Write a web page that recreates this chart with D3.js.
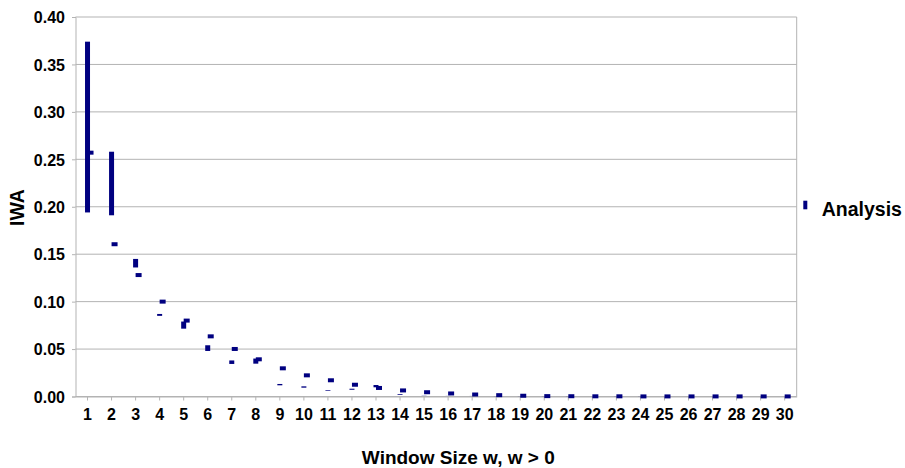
<!DOCTYPE html>
<html>
<head>
<meta charset="utf-8">
<script src="https://cdn.jsdelivr.net/npm/d3@7"></script>
<style>
  html, body { margin: 0; padding: 0; background: #fff; }
  svg { display: block; font-family: "Liberation Sans", Arial, sans-serif; }
</style>
</head>
<body>
<svg id="chart" width="905" height="468"></svg>
<script>
// ---- data ----
const categories = d3.range(1, 31).map(String);
const highValues = [0.374, 0.258, 0.145, 0.087, 0.079, 0.054, 0.038, 0.040, 0.0132, 0.0107,
                    0.0066, 0.0082, 0.0121, 0.0026, 0.0010, 0.0008, 0.0006, 0.0005, 0.0004, 0.0003,
                    0.0003, 0.0002, 0.0002, 0.0002, 0.0001, 0.0001, 0.0001, 0.0001, 0.0001, 0.0001];
const lowValues  = [0.194, 0.191, 0.136, 0.085, 0.0715, 0.048, 0.0343, 0.0346, 0.0118, 0.0093,
                    0.0059, 0.0071, 0.0097, 0.0018, 0.0008, 0.0007, 0.0005, 0.0004, 0.0003, 0.0002,
                    0.0002, 0.0002, 0.0001, 0.0001, 0.0001, 0.0001, 0.0001, 0.0001, 0.0001, 0.0001];
const closeValues = [0.257, 0.1605, 0.128, 0.100, 0.080, 0.0634, 0.0501, 0.0392, 0.0297, 0.0223,
                     0.0171, 0.0124, 0.0090, 0.0064, 0.0045, 0.0032, 0.0021, 0.0014, 0.0008, 0.0004,
                     0.0003, 0.0002, 0.0002, 0.0001, 0.0001, 0.0001, 0.0001, 0.0001, 0.0001, 0.0001];
const yTicks = [0, 0.05, 0.10, 0.15, 0.20, 0.25, 0.30, 0.35, 0.40];
const seriesName = "Analysis";
const xTitle = "Window Size w, w > 0";
const yTitle = "IWA";

// ---- layout ----
const plotL = 75.5, plotR = 796.7, plotT = 17, plotB = 396.5;
const navy = "#000080", grid = "#b3b3b3";

const svg = d3.select("#chart");

const x = d3.scaleBand().domain(categories).range([plotL, plotR]).padding(0);
const y = d3.scaleLinear().domain([0, 0.4]).range([plotB, plotT]);
const cx = c => x(c) + x.bandwidth() / 2;

// gridlines
svg.append("g").selectAll("line").data(yTicks).join("line")
  .attr("x1", plotL).attr("x2", plotR)
  .attr("y1", d => y(d)).attr("y2", d => y(d))
  .attr("stroke", grid).attr("stroke-width", 1);

// right border
svg.append("line").attr("x1", plotR).attr("x2", plotR).attr("y1", plotT).attr("y2", plotB)
  .attr("stroke", grid).attr("stroke-width", 1);

// y axis
const yAxis = svg.append("g").attr("transform", `translate(${plotL},0)`)
  .call(d3.axisLeft(y).tickValues(yTicks).tickFormat(d3.format(".2f")).tickSize(3.5).tickPadding(7));
yAxis.select(".domain").attr("stroke", grid);
yAxis.selectAll(".tick line").attr("stroke", grid);
yAxis.selectAll("text").attr("font-size", 16).attr("font-weight", "bold")
  .attr("fill", "#000").attr("dy", "0.36em").attr("font-family", "Liberation Sans, Arial, sans-serif");

// x axis
const xAxis = svg.append("g").attr("transform", `translate(0,${plotB})`)
  .call(d3.axisBottom(x).tickSize(4).tickSizeOuter(0));
xAxis.select(".domain").attr("stroke", grid);
xAxis.selectAll(".tick line").attr("stroke", grid);
xAxis.selectAll("text").attr("font-size", 16).attr("font-weight", "bold")
  .attr("fill", "#000").attr("y", 23.5).attr("dy", 0).attr("font-family", "Liberation Sans, Arial, sans-serif");

// high-low bars
const data = categories.map((c, i) => ({ c, hi: highValues[i], lo: lowValues[i], cl: closeValues[i] }));
svg.append("g").selectAll("rect").data(data).join("rect")
  .attr("x", d => cx(d.c) - 2.5).attr("width", 5)
  .attr("y", d => y(d.hi)).attr("height", d => y(d.lo) - y(d.hi))
  .attr("fill", navy);

// close ticks
svg.append("g").selectAll("rect").data(data).join("rect")
  .attr("x", d => cx(d.c)).attr("width", 6)
  .attr("y", d => y(d.cl) - 2).attr("height", 4)
  .attr("fill", navy);

// axis titles
svg.append("text").attr("x", 458.3).attr("y", 463.5).attr("text-anchor", "middle")
  .attr("font-size", 19).attr("font-weight", "bold").text(xTitle);
svg.append("text").attr("transform", "translate(23.5,207.5) rotate(-90)").attr("text-anchor", "middle")
  .attr("font-size", 19.5).attr("font-weight", "bold").text(yTitle);

// legend
svg.append("rect").attr("x", 803.3).attr("y", 200.7).attr("width", 4).attr("height", 8.6).attr("fill", navy);
svg.append("text").attr("x", 821.7).attr("y", 215.5)
  .attr("font-size", 19.5).attr("font-weight", "bold").text(seriesName);
</script>
</body>
</html>
